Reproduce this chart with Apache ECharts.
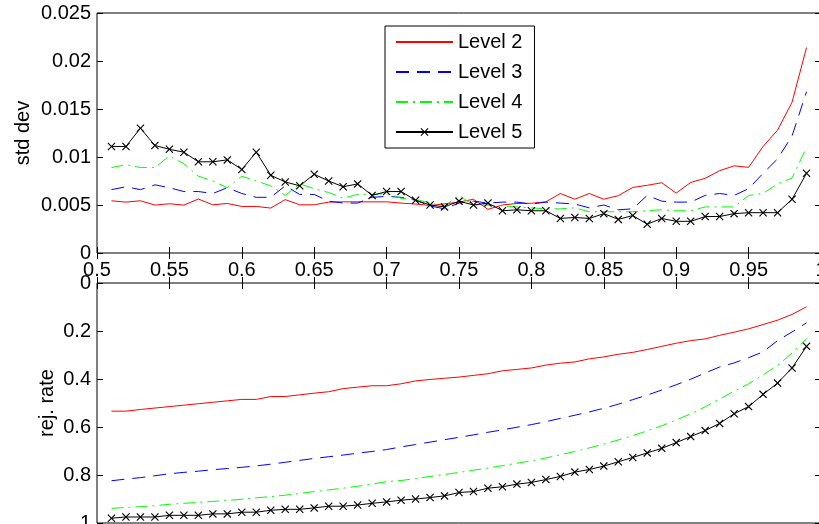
<!DOCTYPE html>
<html>
<head>
<meta charset="utf-8">
<script src="https://cdn.jsdelivr.net/npm/echarts@6/dist/echarts.min.js"></script>
<style>
html,body{margin:0;padding:0;background:#fff;}
#c{width:819px;height:524px;}
</style>
</head>
<body>
<div id="c"></div>
<script>
var xs = [0.51,0.52,0.53,0.54,0.55,0.56,0.57,0.58,0.59,0.60,0.61,0.62,0.63,0.64,0.65,0.66,0.67,0.68,0.69,0.70,
          0.71,0.72,0.73,0.74,0.75,0.76,0.77,0.78,0.79,0.80,0.81,0.82,0.83,0.84,0.85,0.86,0.87,0.88,0.89,0.90,
          0.91,0.92,0.93,0.94,0.95,0.96,0.97,0.98,0.99];
var seriesNames = ['Level 2','Level 3','Level 4','Level 5'];

// top panel: std dev
var std2 = [.00544,.0053,.00544,.00499,.00513,.00499,.00562,.00502,.00516,.00485,.00485,.00468,.00556,.00502,.00502,.0053,.00533,.00533,.00533,.00533,
            .0052,.0051,.00495,.00512,.0053,.0056,.00455,.005,.00516,.00518,.00533,.0062,.0056,.0062,.0056,.00597,.00683,.00705,.00732,.00624,
            .00735,.00778,.00857,.00908,.00892,.0111,.0128,.0157,.0214];
var std3 = [.0066,.0069,.0066,.0071,.0068,.0064,.0064,.0062,.0068,.0062,.0058,.0058,.0070,.0061,.0061,.0054,.0052,.0052,.0058,.0059,
            .0058,.0055,.0049,.0046,.0052,.0054,.0052,.0053,.0053,.0051,.0053,.0052,.0051,.0047,.0050,.0045,.0046,.0060,.0054,.0053,
            .0053,.0060,.0062,.0060,.0067,.0083,.0098,.0122,.0168];
var std4 = [.0089,.0092,.0089,.0089,.0101,.0093,.0080,.0075,.0068,.0080,.0075,.0070,.0060,.0072,.0067,.0063,.0057,.0061,.0061,.0062,
            .0057,.0056,.0052,.0049,.0060,.0050,.0050,.0049,.0048,.0047,.0046,.0046,.0047,.0043,.0043,.0043,.0043,.0044,.0045,.0044,
            .0044,.0048,.0048,.0048,.0060,.0062,.0072,.0078,.0110];
var std5 = [.0111,.0111,.0130,.0112,.0108,.0105,.0095,.0095,.0097,.0087,.0105,.0081,.0074,.0070,.0082,.0075,.0069,.0072,.0060,.0064,
            .0064,.0055,.0050,.0048,.0054,.0050,.0052,.0044,.0045,.0044,.0044,.0036,.0037,.0036,.0041,.0035,.0039,.0030,.0036,.0033,
            .0033,.0038,.0038,.0041,.0042,.0042,.0042,.0056,.0083];

// bottom panel: rejection rate
var rej2 = [.534,.534,.527,.521,.515,.509,.503,.497,.491,.485,.485,.473,.473,.466,.459,.453,.440,.434,.428,.428,
            .420,.408,.402,.397,.392,.385,.378,.366,.360,.354,.342,.334,.329,.316,.308,.297,.289,.277,.264,.251,
            .240,.233,.218,.205,.191,.173,.155,.131,.099];
var rej3 = [.824,.817,.811,.803,.795,.789,.784,.778,.773,.768,.762,.755,.747,.739,.731,.724,.717,.709,.702,.694,
            .683,.673,.663,.653,.643,.633,.622,.612,.601,.590,.578,.564,.551,.537,.522,.505,.486,.467,.446,.424,
            .401,.375,.350,.333,.311,.287,.240,.204,.166];
var rej4 = [.939,.935,.932,.928,.922,.918,.914,.910,.906,.901,.895,.890,.884,.877,.869,.862,.855,.847,.838,.828,
            .823,.815,.806,.798,.789,.780,.771,.761,.751,.741,.729,.716,.702,.687,.671,.654,.636,.616,.595,.571,
            .545,.516,.483,.451,.420,.383,.343,.292,.232];
var rej5 = [.980,.975,.975,.975,.968,.968,.968,.962,.962,.955,.955,.947,.943,.943,.937,.930,.930,.925,.918,.912,
            .905,.900,.894,.887,.873,.869,.855,.849,.838,.831,.819,.806,.788,.777,.763,.745,.727,.708,.689,.665,
            .640,.615,.585,.545,.515,.464,.417,.354,.264];

var topTicks = {min:0, max:0.025, interval:0.005};
var botTicks = {min:0, max:1, interval:0.2};
var xTicks = {min:0.5, max:1, interval:0.05};

var FONT = "'Liberation Sans', Arial, Helvetica, sans-serif";
var X_PATH = 'path://M0,1 L1,0 L5,4 L9,0 L10,1 L6,5 L10,9 L9,10 L5,6 L1,10 L0,9 L4,5 Z';

var styles = [
  {color:'#ff0000', type:'solid', marker:false},
  {color:'#0000ff', type:[13,8], marker:false},
  {color:'#00ff00', type:[12,5,2,5], marker:false},
  {color:'#000000', type:'solid', marker:true}
];

function pairs(ys){ return xs.map(function(x,i){ return [x, ys[i]]; }); }

function mkSeries(name, ys, st, xi, yi){
  return {
    name: name, type:'line', xAxisIndex: xi, yAxisIndex: yi,
    data: pairs(ys),
    symbol: st.marker ? X_PATH : 'circle', symbolSize: 8,
    showSymbol: st.marker, showAllSymbol: true,
    lineStyle: {color: st.color, width: 1, type: st.type},
    itemStyle: {color: st.color},
    emphasis: {disabled: true},
    z: 3
  };
}

var tops = [std2, std3, std4, std5];
var bots = [rej2, rej3, rej4, rej5];
var series = [];
for (var i=0;i<4;i++) series.push(mkSeries(seriesNames[i], tops[i], styles[i], 0, 0));
for (var j=0;j<4;j++) series.push(mkSeries(seriesNames[j], bots[j], styles[j], 2, 2));

var tickStyle = {show:true, inside:true, length:6, lineStyle:{color:'#000', width:1}};
var labelStyle = {color:'#000', fontSize:20, fontFamily:FONT};

function xAx(grid, pos, showLabel){
  return {
    type:'value', gridIndex:grid, position:pos,
    min:xTicks.min, max:xTicks.max, interval:xTicks.interval,
    axisLine:{show:false}, axisTick:tickStyle, splitLine:{show:false},
    axisLabel: showLabel ? Object.assign({margin:7, formatter:function(v){return String(+v.toFixed(2));}}, labelStyle) : {show:false}
  };
}
function yAx(grid, pos, t, showLabel, name, gap, inverse){
  var a = {
    type:'value', gridIndex:grid, position:pos, inverse: !!inverse,
    min:t.min, max:t.max, interval:t.interval,
    axisLine:{show:false}, axisTick:tickStyle, splitLine:{show:false},
    axisLabel: showLabel ? Object.assign({margin:6, formatter:function(v){return String(+v.toFixed(3));}}, labelStyle) : {show:false}
  };
  if (name){
    a.name = name; a.nameLocation = 'middle'; a.nameGap = gap; a.nameRotate = 90;
    a.nameMoveOverlap = false;
    a.nameTextStyle = {color:'#000', fontSize:20, fontFamily:FONT};
  }
  return a;
}

var legendData = seriesNames.map(function(n, k){
  return styles[k].marker ? {name:n} : {name:n, itemStyle:{opacity:0}};
});

var option = {
  animation:false,
  backgroundColor:'#fff',
  textStyle:{fontFamily:FONT},
  grid:[
    {left:97, top:13, width:724, height:240, show:true, borderColor:'#000', borderWidth:1,
     backgroundColor:'transparent', containLabel:false, outerBoundsMode:'none'},
    {left:97, top:283, width:724, height:240, show:true, borderColor:'#000', borderWidth:1,
     backgroundColor:'transparent', containLabel:false, outerBoundsMode:'none'}
  ],
  xAxis:[ xAx(0,'bottom',true), xAx(0,'top',false), xAx(1,'bottom',true), xAx(1,'top',false) ],
  yAxis:[ yAx(0,'left',topTicks,true,'std dev',64,false), yAx(0,'right',topTicks,false,null,0,false),
          yAx(1,'left',botTicks,true,'rej. rate',40,true), yAx(1,'right',botTicks,false,null,0,true) ],
  legend:{
    data: legendData,
    orient:'vertical', left:385, top:26,
    backgroundColor:'#fff', borderColor:'#000', borderWidth:1,
    padding:[6,12,6,10],
    itemWidth:57, itemHeight:10, itemGap:10,
    textStyle:{color:'#000', fontSize:20, fontFamily:FONT, lineHeight:20},
    selectedMode:false
  },
  series: series
};

var chart = echarts.init(document.getElementById('c'), null, {renderer:'canvas'});
chart.setOption(option);
</script>
</body>
</html>
